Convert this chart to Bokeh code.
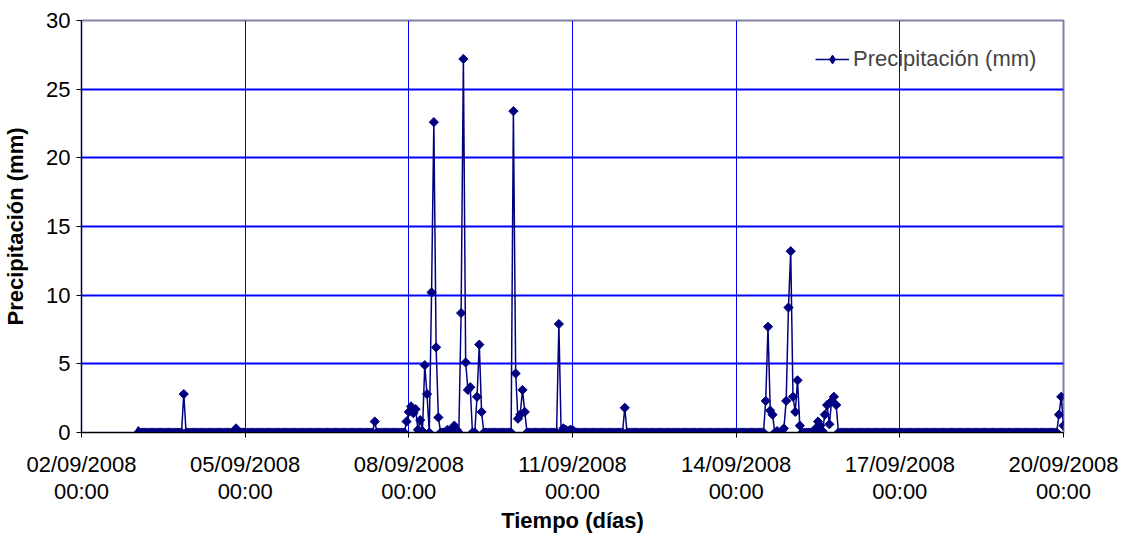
import numpy as np
import pandas as pd
from bokeh.plotting import figure
from bokeh.models import (FixedTicker, DatetimeTickFormatter, Legend, LegendItem,
                          ColumnDataSource, CDSView, IndexFilter)
from bokeh.embed import file_html
from bokeh.resources import INLINE

# ---- data (hourly precipitation, mm) ----
series_start = "2008-09-03 01:00"
series_end = "2008-09-20 00:00"

rain_times = [
    "2008-09-03 21:00", "2008-09-04 19:00", "2008-09-04 20:00", "2008-09-07 09:00",
    "2008-09-07 23:00", "2008-09-08 00:00", "2008-09-08 01:00", "2008-09-08 02:00",
    "2008-09-08 03:00", "2008-09-08 04:00", "2008-09-08 05:00", "2008-09-08 06:00",
    "2008-09-08 07:00", "2008-09-08 08:00", "2008-09-08 10:00", "2008-09-08 11:00",
    "2008-09-08 12:00", "2008-09-08 13:00", "2008-09-08 17:00", "2008-09-08 18:00",
    "2008-09-08 19:00", "2008-09-08 20:00", "2008-09-08 21:00", "2008-09-08 23:00",
    "2008-09-09 00:00", "2008-09-09 01:00", "2008-09-09 02:00", "2008-09-09 03:00",
    "2008-09-09 06:00", "2008-09-09 07:00", "2008-09-09 08:00", "2008-09-09 22:00",
    "2008-09-09 23:00", "2008-09-10 00:00", "2008-09-10 01:00", "2008-09-10 02:00",
    "2008-09-10 03:00", "2008-09-10 18:00", "2008-09-10 20:00", "2008-09-10 21:00",
    "2008-09-10 22:00", "2008-09-10 23:00", "2008-09-11 00:00", "2008-09-11 23:00",
    "2008-09-14 13:00", "2008-09-14 14:00", "2008-09-14 15:00", "2008-09-14 16:00",
    "2008-09-14 18:00", "2008-09-14 20:00", "2008-09-14 21:00", "2008-09-14 22:00",
    "2008-09-14 23:00", "2008-09-15 00:00", "2008-09-15 01:00", "2008-09-15 02:00",
    "2008-09-15 03:00", "2008-09-15 04:00", "2008-09-15 11:00", "2008-09-15 12:00",
    "2008-09-15 13:00", "2008-09-15 14:00", "2008-09-15 15:00", "2008-09-15 16:00",
    "2008-09-15 17:00", "2008-09-15 18:00", "2008-09-15 19:00", "2008-09-15 20:00",
    "2008-09-19 22:00", "2008-09-19 23:00", "2008-09-20 00:00",
]
rain_values = [
    2.8, 0.1, 0.3, 0.8,
    0.8, 1.5, 1.9, 1.4,
    1.7, 0.2, 0.9, 0.1,
    4.9, 2.8, 10.2, 22.6,
    6.2, 1.1, 0.2, 0.1,
    0.2, 0.5, 0.2, 8.7,
    27.2, 5.1, 3.1, 3.3,
    2.6, 6.4, 1.5, 23.4,
    4.3, 1.0, 1.3, 3.1,
    1.5, 7.9, 0.3, 0.2,
    0.1, 0.2, 0.2, 1.8,
    2.3, 7.7, 1.6, 1.3,
    0.1, 0.1, 0.3, 2.3,
    9.1, 13.2, 2.6, 1.5,
    3.8, 0.5, 0.3, 0.8,
    0.5, 0.1, 1.3, 2.0,
    0.6, 2.3, 2.6, 2.0,
    1.3, 2.6, 0.5,
]

x_tick_dates = ["2008-09-02", "2008-09-05", "2008-09-08", "2008-09-11",
                "2008-09-14", "2008-09-17", "2008-09-20"]
y_ticks = [0, 5, 10, 15, 20, 25, 30]

series_name = "Precipitación (mm)"
x_title = "Tiempo (días)"
y_title = "Precipitación (mm)"

# ---- build hourly series ----
times = pd.date_range(series_start, series_end, freq="h")
vals = pd.Series(0.0, index=times)
for t, v in zip(rain_times, rain_values):
    vals[pd.Timestamp(t)] = v
src = ColumnDataSource(dict(t=times, v=vals.values))

FONT = "Liberation Sans"
NAVY = "#000080"
FS = "22px"

x0 = pd.Timestamp(x_tick_dates[0])
x1 = pd.Timestamp(x_tick_dates[-1])

p = figure(width=1128, height=536, x_axis_type="datetime",
           x_range=(x0, x1), y_range=(0, 30),
           output_backend="svg", toolbar_location=None,
           min_border_left=81, min_border_right=65, min_border_top=20, min_border_bottom=103)

line_r = p.line("t", "v", source=src, line_color=NAVY, line_width=1.5)
pts_r = p.scatter("t", "v", source=src, marker="square", angle=np.pi / 4, size=6.5,
                  fill_color=NAVY, line_color=NAVY)
# diamond renderer (one point, hidden under the series) used for the legend symbol
leg_pts = p.scatter("t", "v", source=src, view=CDSView(filter=IndexFilter([0])),
                    marker="diamond", size=12, fill_color=NAVY, line_color=NAVY)

tick_ms = [pd.Timestamp(d).value // 10**6 for d in x_tick_dates]
p.xaxis.ticker = FixedTicker(ticks=tick_ms)
fmt = "%d/%m/%Y\n%H:%M"
p.xaxis.formatter = DatetimeTickFormatter(
    milliseconds=fmt, seconds=fmt, minsec=fmt, minutes=fmt, hourmin=fmt,
    hours=fmt, days=fmt, months=fmt, years=fmt)
p.yaxis.ticker = FixedTicker(ticks=y_ticks)

p.xgrid.ticker = FixedTicker(ticks=tick_ms[1:-1])
p.ygrid.ticker = FixedTicker(ticks=y_ticks[1:-1])
p.xgrid.grid_line_color = "#0000FF"
p.xgrid.grid_line_width = 1
p.ygrid.grid_line_color = "#0000FF"
p.ygrid.grid_line_width = 2

p.outline_line_color = "#8080A0"
p.outline_line_width = 2

for ax in (p.xaxis[0], p.yaxis[0]):
    ax.axis_line_color = "#000000"
    ax.major_tick_line_color = "#000000"
    ax.major_tick_in = 0
    ax.major_tick_out = 5
    ax.minor_tick_line_color = None
    ax.major_label_text_font = FONT
    ax.major_label_text_font_size = FS
    ax.major_label_text_color = "#000000"
    ax.axis_label_text_font = FONT
    ax.axis_label_text_font_size = FS
    ax.axis_label_text_font_style = "bold"
    ax.axis_label_text_color = "#000000"

p.xaxis.axis_label = x_title
p.yaxis.axis_label = y_title
p.xaxis.major_label_text_line_height = 1.1
p.xaxis.major_label_standoff = 14
p.xaxis.axis_label_standoff = 1
p.yaxis.major_label_standoff = 6
p.yaxis.axis_label_standoff = 15

legend = Legend(items=[LegendItem(label=series_name, renderers=[line_r, leg_pts])],
                location=(734, 360), border_line_color=None, background_fill_alpha=0,
                padding=0, margin=0, glyph_width=34, glyph_height=22, label_standoff=4,
                label_text_font=FONT, label_text_font_size=FS)
p.add_layout(legend)

open("out.html", "w").write(file_html(p, INLINE))
